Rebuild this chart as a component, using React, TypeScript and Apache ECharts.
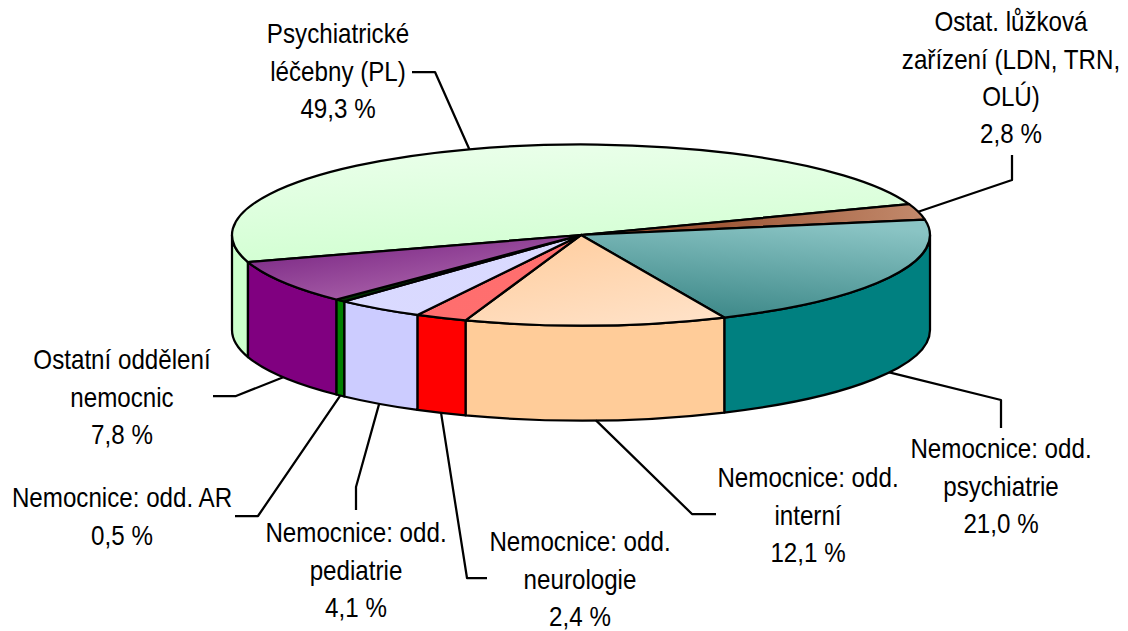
import React, { useEffect, useRef } from "react";
import * as echarts from "echarts";

const categories = [
  "Psychiatrické\nléčebny (PL)",
  "Ostat. lůžková\nzařízení (LDN, TRN,\nOLÚ)",
  "Nemocnice: odd.\npsychiatrie",
  "Nemocnice: odd.\ninterní",
  "Nemocnice: odd.\nneurologie",
  "Nemocnice: odd.\npediatrie",
  "Nemocnice: odd. AR",
  "Ostatní oddělení\nnemocnic",
];
const values = [49.3, 2.8, 21.0, 12.1, 2.4, 4.1, 0.5, 7.8];

const wallColors = ["#ccffcc", "#a0522d", "#008080", "#ffcc99", "#ff0000", "#ccccff", "#008000", "#800080"];
const topFrom = ["#ebffeb", "#9a5030", "#3f8a8a", "#ffd0a4", "#ff6c6c", "#d9d9ff", "#003000", "#82308a"];
const topTo = ["#d2ffd2", "#c28a6c", "#8ac4c4", "#ffe2c8", "#ff7070", "#dadaff", "#003000", "#aa62aa"];
// Gradient directions of the top faces (x, y, x2, y2 in each face's bounding box)
const topGrad = [
  [0.15, 0, 0.35, 1],
  [0.3, 0, 1, 0],
  [0.45, 1, 0.75, 0.05],
  [0.35, 0.1, 0.85, 1],
  [0, 0, 1, 1],
  [0, 0, 1, 1],
  [0, 0, 1, 1],
  [0, 0.4, 0.5, 1],
];

// Pie geometry on the page
const CX = 581, CY = 235, RX = 349, RY = 90.5, DEPTH = 95;
const START_ANGLE = -197.4;

// Label layout: centre x, first-line centre y
const labelPos = [
  [338, 34], [1011, 22], [1001, 449], [808, 478], [580, 542], [356, 533], [122, 498], [122, 360],
];
// Leader bends after the anchor on the pie's rim
const leaderBends = [
  [[435, 72], [412, 72]],
  [[1012, 180], [1012, 155]],
  [[1001, 400], [1001, 428]],
  [[692, 514], [716, 514]],
  [[467, 578], [487, 578]],
  [[356, 487], [356, 510]],
  [[258, 516], [235, 516]],
  [[236, 396], [213, 396]],
];

const total = values.reduce((a, b) => a + b, 0);
const pt = (deg: number, dy = 0): [number, number] => {
  const r = (deg * Math.PI) / 180;
  return [CX + RX * Math.cos(r), CY + RY * Math.sin(r) + dy];
};
const arc = (from: number, to: number, dy = 0) => {
  const [x, y] = pt(to, dy);
  const sweep = to > from ? 1 : 0;
  const large = Math.abs(to - from) > 180 ? 1 : 0;
  return `A${RX} ${RY} 0 ${large} ${sweep} ${x} ${y}`;
};
const frontParts = (a: number, b: number) => {
  const parts: [number, number][] = [];
  for (const s of [-360, 0, 360]) {
    const lo = Math.max(a, s);
    const hi = Math.min(b, s + 180);
    if (hi > lo) parts.push([lo, hi]);
  }
  return parts;
};

const lineStyle = { stroke: "#000", lineWidth: 2.25, lineJoin: "round" };

export default function App() {
  const ref = useRef<HTMLDivElement>(null);
  useEffect(() => {
    document.body.style.margin = "0";
    const chart = echarts.init(ref.current!, undefined, { renderer: "svg" });
    const angleOf = (idx: number) => {
      let sum = 0;
      for (let i = 0; i < idx; i++) sum += values[i];
      return START_ANGLE + (sum / total) * 360;
    };
    chart.setOption({
      animation: false,
      backgroundColor: "#fff",
      series: [
        {
          type: "custom",
          coordinateSystem: "none",
          silent: true,
          clip: false,
          data: values.map((v) => [v]),
          renderItem: (params: any, api: any) => {
            const i = params.dataIndex;
            const v = api.value(0);
            const a1 = angleOf(i);
            const a2 = a1 + (v / total) * 360;
            const mid = (a1 + a2) / 2;
            const children: any[] = [];
            for (const [lo, hi] of frontParts(a1, a2)) {
              const p1 = pt(lo);
              const p2b = pt(hi, DEPTH);
              children.push({
                type: "path",
                z2: 1,
                shape: {
                  pathData: `M${p1[0]} ${p1[1]}${arc(lo, hi)}L${p2b[0]} ${p2b[1]}${arc(hi, lo, DEPTH)}Z`,
                },
                style: { fill: wallColors[i], ...lineStyle },
              });
            }
            const s = pt(a1);
            const g = topGrad[i];
            children.push({
              type: "path",
              z2: 2,
              shape: { pathData: `M${CX} ${CY}L${s[0]} ${s[1]}${arc(a1, a2)}Z` },
              style: {
                fill: new echarts.graphic.LinearGradient(g[0], g[1], g[2], g[3], [
                  { offset: 0, color: topFrom[i] },
                  { offset: 1, color: topTo[i] },
                ]),
                ...lineStyle,
              },
            });
            const norm = ((mid % 360) + 360) % 360;
            const anchor = pt(mid, norm > 0 && norm < 180 ? DEPTH : 0);
            children.push({
              type: "polyline",
              z2: 3,
              shape: { points: [anchor, ...leaderBends[i]] },
              style: { fill: "none", ...lineStyle },
            });
            children.push({
              type: "text",
              z2: 4,
              x: labelPos[i][0],
              y: labelPos[i][1] - 18.7,
              scaleX: 0.895,
              style: {
                text: `${categories[i]}\n${v.toFixed(1).replace(".", ",")} %`,
                font: '27px "Liberation Sans", Arial, sans-serif',
                fill: "#000",
                align: "center",
                verticalAlign: "top",
                lineHeight: 37.3,
              },
            });
            return { type: "group", children };
          },
        },
      ],
    });
    return () => chart.dispose();
  }, []);
  return <div ref={ref} style={{ width: 1128, height: 631, position: "absolute", left: 0, top: 0 }} />;
}
